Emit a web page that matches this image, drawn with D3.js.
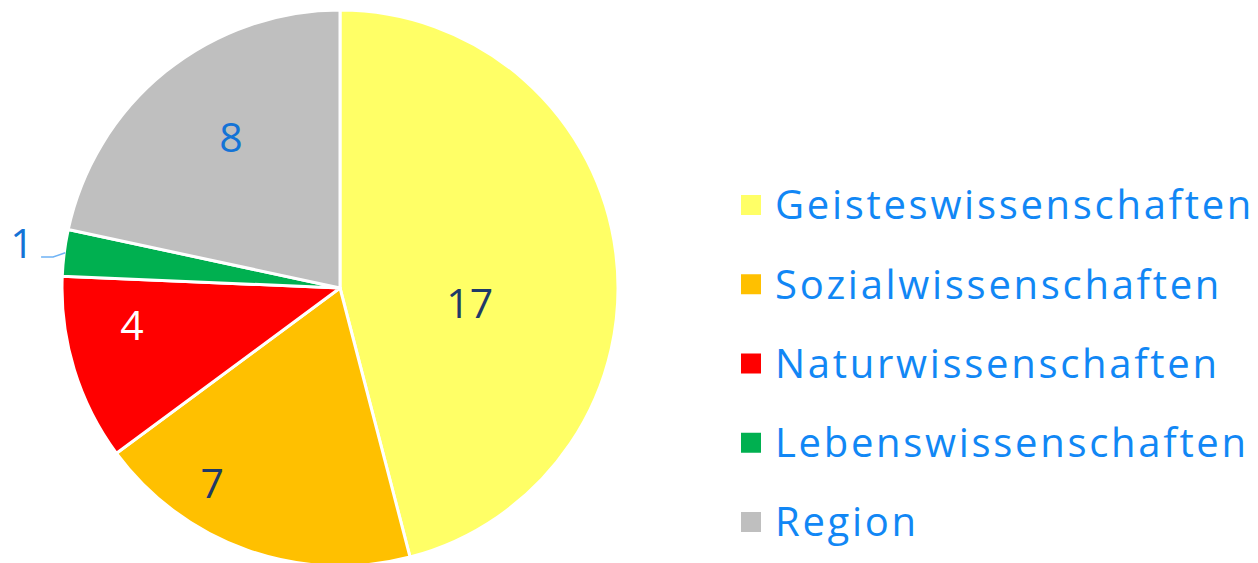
<!DOCTYPE html>
<html><head><meta charset="utf-8">
<script src="https://cdn.jsdelivr.net/npm/d3@7"></script>
<style>html,body{margin:0;padding:0;background:#fff;}svg{display:block;}</style>
</head><body>
<svg id="chart" width="1258" height="563"></svg>
<script>
const categories = ["Geisteswissenschaften","Sozialwissenschaften","Naturwissenschaften","Lebenswissenschaften","Region"];
const values = [17, 7, 4, 1, 8];
const colors = ["#FFFF66","#FFC000","#FF0000","#00B050","#BFBFBF"];
const labelColors = ["#1F3A68","#1F3A68","#FFFFFF","#1473D6","#1473D6"];
// label layout tweaks (fraction of radius, angle shift in radians)
const labelRadius = [0.47, 0.84, 0.76, 1.155, 0.67];
const labelShift = [0.243, 0.24, 0.12, 0.013, 0.054];

const svg = d3.select("#chart");
const cx = 340, cy = 288, R = 278;
const font = "'Open Sans', 'Noto Sans', sans-serif";

const pie = d3.pie().sort(null).value(d => d)(values);
const arc = d3.arc().innerRadius(0).outerRadius(R);
const g = svg.append("g").attr("transform", `translate(${cx},${cy})`);
g.selectAll("path").data(pie).join("path")
  .attr("d", arc).attr("fill", (d,i) => colors[i])
  .attr("stroke", "#fff").attr("stroke-width", 3).attr("stroke-linejoin","round");

pie.forEach((d, i) => {
  const a = (d.startAngle + d.endAngle) / 2 + labelShift[i];
  const r = R * labelRadius[i];
  const x = Math.sin(a) * r, y = -Math.cos(a) * r;
  g.append("text").attr("x", x).attr("y", y).attr("dy", "0.36em")
    .attr("text-anchor", "middle").attr("font-family", font).attr("font-size", 41)
    .attr("fill", labelColors[i]).text(values[i]);
  if (labelRadius[i] > 1) {
    const am = (d.startAngle + d.endAngle) / 2;
    const ex = Math.sin(am) * (R - 1), ey = -Math.cos(am) * (R - 1);
    const lx = x + 19, ly = y + 14;
    g.append("path").attr("d", `M${lx},${ly}L${lx+12},${ly}L${ex},${ey}`)
      .attr("fill","none").attr("stroke","#6FB3F5").attr("stroke-width",1.5);
  }
});

const lg = svg.append("g").attr("transform","translate(741,0)");
const rowY = d3.scalePoint().domain(categories).range([205, 522]);
categories.forEach((c, i) => {
  const y = rowY(c);
  lg.append("rect").attr("x", 0).attr("y", y - 10).attr("width", 20).attr("height", 20).attr("fill", colors[i]);
  lg.append("text").attr("x", 34).attr("y", y).attr("dy","0.36em")
    .attr("font-family", font).attr("font-size", 40).attr("letter-spacing", 2.7)
    .attr("fill", "#1187F5").text(c);
});
</script>
</body></html>
